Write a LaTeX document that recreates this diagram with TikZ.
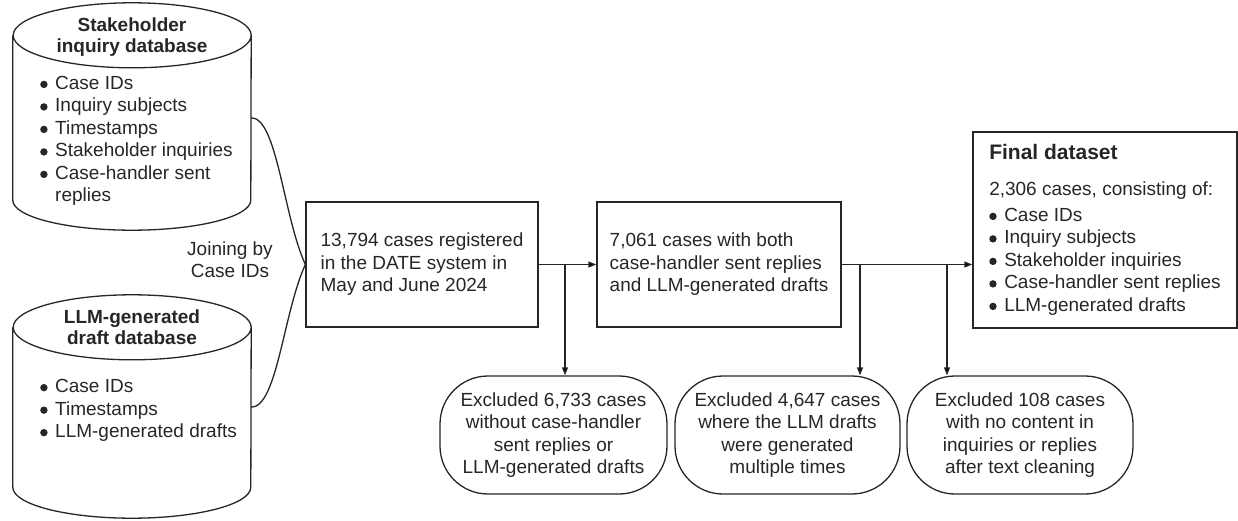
\documentclass[tikz,border=0pt]{standalone}
\usepackage{fontspec}
\setmainfont{Liberation Sans}
\usetikzlibrary{positioning,calc,shapes.geometric,arrows.meta}

\newcommand{\bul}{\makebox[15pt][l]{\tikz[baseline=0pt]\fill[black!85] (3.8pt,5pt) circle[radius=3.7pt];}}

\tikzset{
  txt/.style={font=\fontsize{19}{22.5}\selectfont, text=black!85},
  titletxt/.style={font=\fontsize{19}{21}\selectfont\bfseries, text=black!85},
  dbbody/.style={inner sep=0pt, minimum width=238pt},
  dbline/.style={draw=black!85, line width=1.3pt},
  stepbox/.style={txt, draw=black!85, line width=1.3pt, align=left},
  exclbox/.style={txt, draw=black!85, line width=1.3pt, align=center, rounded corners=48pt, minimum height=118pt, inner sep=0pt},
  arr/.style={draw=black!85, line width=1.3pt, -{Triangle[length=8pt,width=6pt]}},
  joinline/.style={draw=black!85, line width=1.3pt},
}

\begin{document}
\begin{tikzpicture}[x=1pt,y=-1pt]
\useasboundingbox (0,0) rectangle (1238,521);

% the two source databases
\node[dbbody, minimum height=164.5pt] (stakedb) at (132,117.75) {};
\draw[dbline] (stakedb.north west) -- (stakedb.south west)
  arc[start angle=180, end angle=360, x radius=119pt, y radius=30pt]
  -- (stakedb.north east)
  arc[start angle=0, end angle=360, x radius=119pt, y radius=32.5pt];
\node[titletxt, align=center] (staketitle) at (132,37.5) {Stakeholder\\ inquiry database};
\node[txt, align=left, anchor=west, inner sep=0pt] (stakelist) at (40,141) {\bul Case IDs\\ \bul Inquiry subjects\\ \bul Timestamps\\ \bul Stakeholder inquiries\\ \bul Case-handler sent\\ \hphantom{\bul}replies};

\node[dbbody, minimum height=159.5pt] (draftdb) at (132,407.25) {};
\draw[dbline] (draftdb.north west) -- (draftdb.south west)
  arc[start angle=180, end angle=360, x radius=119pt, y radius=31pt]
  -- (draftdb.north east)
  arc[start angle=0, end angle=360, x radius=119pt, y radius=32.5pt];
\node[titletxt, align=center] (drafttitle) at (132,327.5) {LLM-generated\\ draft database};
\node[txt, align=left, anchor=west, inner sep=0pt] (draftlist) at (40,410.5) {\bul Case IDs\\ \bul Timestamps\\ \bul LLM-generated drafts};

\node[txt, align=center] (joinlbl) at (230,259.5) {Joining by\\ Case IDs};

% filtering steps
\node[stepbox, minimum width=232pt, minimum height=125pt] (cases) at (422,264.5) {13,794 cases registered\\ in the DATE system in\\ May and June 2024};
\node[stepbox, minimum width=244pt, minimum height=125pt] (both) at (719,264.5) {7,061 cases with both\\ case-handler sent replies\\ and LLM-generated drafts};
\node[stepbox, minimum width=264pt, minimum height=196pt] (final) at (1105,230) {{\fontsize{21}{24}\selectfont\bfseries Final dataset}\\[13pt] 2,306 cases, consisting of:\\[3.5pt] \bul Case IDs\\ \bul Inquiry subjects\\ \bul Stakeholder inquiries\\ \bul Case-handler sent replies\\ \bul LLM-generated drafts};

% exclusions
\node[exclbox, minimum width=227pt] (excl1) at (553.5,435) {Excluded 6,733 cases\\ without case-handler\\ sent replies or\\ LLM-generated drafts};
\node[exclbox, minimum width=225pt] (excl2) at (787.5,435) {Excluded 4,647 cases\\ where the LLM drafts\\ were generated\\ multiple times};
\node[exclbox, minimum width=226pt] (excl3) at (1020,435) {Excluded 108 cases\\ with no content in\\ inquiries or replies\\ after text cleaning};

% joining curves
\draw[joinline] (stakedb.east) .. controls +(26,0) and +(-22,-48) .. (cases.west);
\draw[joinline] (draftdb.east) .. controls +(26,0) and +(-22,48) .. (cases.west);

% flow arrows
\coordinate (split1) at (565,264.5);
\coordinate (split2) at (860,264.5);
\coordinate (split3) at (947,264.5);
\draw[arr] (cases.east) -- (both.west);
\draw[arr] (split1) -- (split1 |- excl1.north);
\draw[arr] (both.east) -- (both.east -| final.west);
\draw[arr] (split2) -- (split2 |- excl2.north);
\draw[arr] (split3) -- (split3 |- excl3.north);
\end{tikzpicture}
\end{document}
